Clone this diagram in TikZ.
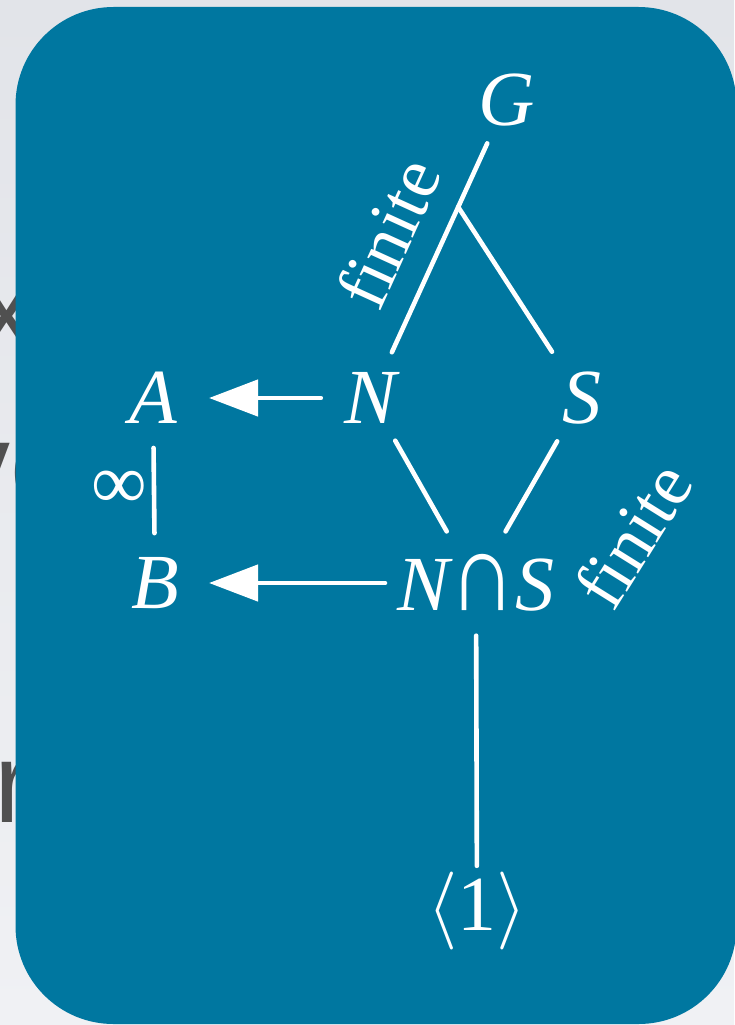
\documentclass[tikz,border=0pt]{standalone}
\usepackage{fix-cm}
\usepackage{graphicx}
\usepackage{fontspec}
\setmainfont{Liberation Serif}
\newfontfamily\fragfont{Liberation Sans}
\usetikzlibrary{arrows.meta,calc}

\definecolor{panel}{RGB}{0,119,160}
\definecolor{pagetop}{RGB}{226,228,233}
\definecolor{pagebot}{RGB}{240,241,244}
\definecolor{fragink}{RGB}{80,80,80}

\newcommand{\capsym}{{\upshape\scalebox{1.18}[1.43]{∩}}}

\begin{document}
\begin{tikzpicture}[x=1pt,y=-1pt,
  obj/.style={inner sep=0pt, text=white, font=\fontsize{78}{80}\selectfont\itshape},
  lbl/.style={inner sep=0pt, text=white, font=\fontsize{78}{80}\selectfont},
  edgelbl/.style={inner sep=0pt, text=white, font=\fontsize{73}{75}\selectfont},
  link/.style={draw=white, line width=4.6pt, line cap=round},
  mapto/.style={link, -{Triangle[length=49pt,width=36pt]}},
  frag/.style={inner sep=0pt, text=fragink, anchor=base west,
    font=\fragfont\fontsize{114}{114}\selectfont}]

  % page and the cut-off slide text behind the panel
  \useasboundingbox (0,0) rectangle (734,1025);
  \shade[top color=pagetop, bottom color=pagebot] (0,0) rectangle (734,1025);
  \node[frag] (fx) at (-21.5,347) {x};
  \node[frag] (fv) at (-47,503) {ve};
  \node[frag] (fr) at (-5.5,822) {r};

  % panel
  \fill[panel, rounded corners=98pt] (15.5,7) rectangle (736.5,1024);

  % subgroups
  \node[obj] (G)  at (507,100) {G};
  \node[obj] (N)  at (371,398) {N};
  \node[obj] (S)  at (582,398) {S};
  \node[obj] (A)  at (153,398) {A};
  \node[obj] (B)  at (155,583) {B};
  \node[obj] (NS) at (476,583) {N\capsym S};
  \node[lbl] (one) at (477,911) {$\langle$1$\rangle$};

  % edge labels
  \node[edgelbl, rotate=65.5] (finNG) at (388,233) {finite};
  \node[edgelbl, rotate=58]   (finSN) at (633,535) {finite};
  \node[lbl] (inf) at (119,490) {∞};

  % lattice lines
  \coordinate (J) at ($(N)!0.641!(G)$);
  \draw[link, shorten <=22pt, shorten >=18.7pt] (N) -- (G);
  \draw[link, shorten <=23.7pt] (S) -- (J);
  \draw[link, shorten <=19.5pt, shorten >=26.4pt] (N) -- (NS);
  \draw[link, shorten <=19.5pt, shorten >=26.4pt] (S) -- (NS);
  \draw[link, shorten <=24pt, shorten >=6pt] (NS) -- (one);
  \draw[link, shorten <=24pt, shorten >=24pt] (A) -- (B);

  % maps
  \draw[mapto, shorten <=24pt, shorten >=32pt] (N) -- (A);
  \draw[mapto, shorten >=30pt] ([xshift=-91pt]NS.center) -- (B);
\end{tikzpicture}
\end{document}
